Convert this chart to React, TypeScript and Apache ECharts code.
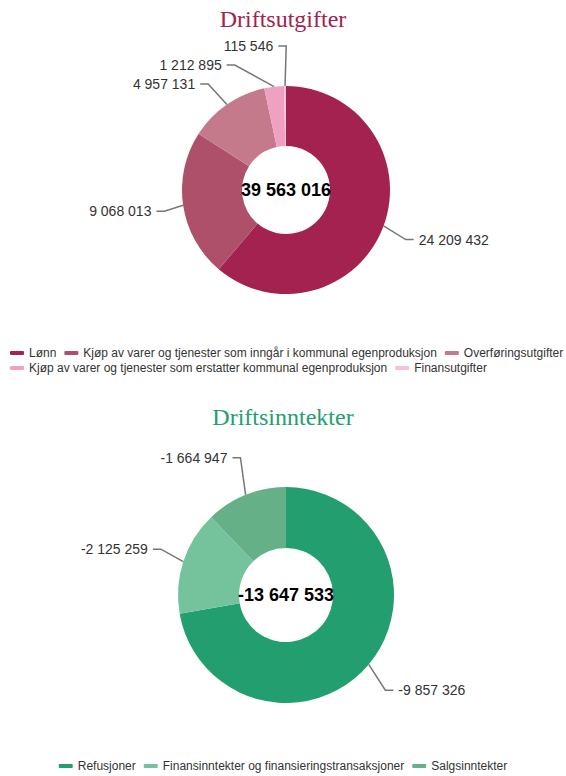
import React, { useEffect, useRef } from "react";
import * as echarts from "echarts";

const expenseCategories = [
  "Lønn",
  "Kjøp av varer og tjenester som inngår i kommunal egenproduksjon",
  "Overføringsutgifter",
  "Kjøp av varer og tjenester som erstatter kommunal egenproduksjon",
  "Finansutgifter",
];
const expenseValues = [24209432, 9068013, 4957131, 1212895, 115546];
const expenseTotalLabel = "39 563 016";
const expenseColors = ["#a3224f", "#ae5069", "#c47a8b", "#f0a0c0", "#f7c2d8"];

const incomeCategories = [
  "Refusjoner",
  "Finansinntekter og finansieringstransaksjoner",
  "Salgsinntekter",
];
const incomeValues = [-9857326, -2125259, -1664947];
const incomeTotalLabel = "-13 647 533";
const incomeColors = ["#239f6f", "#74c39d", "#66b088"];

function fmt(v: number): string {
  const s = Math.abs(Math.round(v)).toString().replace(/\B(?=(\d{3})+(?!\d))/g, " ");
  return (v < 0 ? "-" : "") + s;
}

// pulls outside labels slightly toward the pie, more for near-horizontal leader lines
function pullIn(k: number) {
  return (params: any) => {
    const pts = params.labelLinePoints;
    if (!pts || pts.length < 3) return {};
    const p0 = pts[0], p1 = pts[1], p2 = pts[2];
    const vx = p1[0] - p0[0];
    const vy = p1[1] - p0[1];
    const len = Math.hypot(vx, vy) || 1;
    const dir = p2[0] >= p1[0] ? 1 : -1;
    const s = -dir * k * Math.sqrt(Math.abs(vx) / len);
    return {
      dx: s,
      labelLinePoints: [
        [p0[0], p0[1]],
        [p1[0] + s, p1[1]],
        [p2[0] + s, p2[1]],
      ],
    };
  };
}

export default function App() {
  const ref = useRef<HTMLDivElement>(null);
  useEffect(() => {
    if (!ref.current) return;
    const chart = echarts.init(ref.current, null, { renderer: "svg" });
    const sans = "Liberation Sans, Arial, sans-serif";
    const labelCommon = {
      show: true,
      position: "outside",
      color: "#333",
      fontSize: 14,
      lineHeight: 17,
      fontFamily: sans,
    };
    const labelLineCommon = {
      show: true,
      length: 40,
      length2: 8,
      lineStyle: { color: "#777", width: 1.5 },
    };
    const legendCommon = {
      icon: "roundRect",
      itemWidth: 14,
      itemHeight: 4,
      itemGap: 8,
      padding: 0,
      width: 560,
      textStyle: { color: "#333", fontSize: 12, fontFamily: sans },
      orient: "horizontal" as const,
    };
    chart.setOption({
      animation: false,
      title: [
        {
          text: "Driftsutgifter",
          left: "center",
          top: 2,
          textStyle: {
            fontFamily: "Liberation Serif, DejaVu Serif, serif",
            fontSize: 24,
            fontWeight: "normal",
            color: "#a3224f",
          },
        },
        {
          text: "Driftsinntekter",
          left: "center",
          top: 400,
          textStyle: {
            fontFamily: "Liberation Serif, DejaVu Serif, serif",
            fontSize: 24,
            fontWeight: "normal",
            color: "#239f6f",
          },
        },
      ],
      legend: [
        {
          ...legendCommon,
          data: expenseCategories.slice(0, 3),
          left: 10,
          top: 347,
        },
        {
          ...legendCommon,
          data: expenseCategories.slice(3),
          left: 10,
          top: 362,
        },
        {
          ...legendCommon,
          data: incomeCategories,
          left: "center",
          width: "auto",
          top: 760,
        },
      ],
      graphic: [
        {
          type: "text",
          x: 286,
          y: 190,
          style: {
            text: expenseTotalLabel,
            fontSize: 18,
            fontWeight: "bold",
            fontFamily: sans,
            fill: "#000",
            textAlign: "center",
            textVerticalAlign: "middle",
          },
          z: 100,
        },
        {
          type: "text",
          x: 286,
          y: 595,
          style: {
            text: incomeTotalLabel,
            fontSize: 18,
            fontWeight: "bold",
            fontFamily: sans,
            fill: "#000",
            textAlign: "center",
            textVerticalAlign: "middle",
          },
          z: 100,
        },
      ],
      series: [
        {
          type: "pie",
          center: [286, 190],
          radius: [44, 104],
          startAngle: 90,
          avoidLabelOverlap: true,
          label: { ...labelCommon, formatter: (p: any) => fmt(p.value) },
          labelLine: labelLineCommon,
          labelLayout: pullIn(16),
          itemStyle: { borderWidth: 0 },
          emphasis: { disabled: true },
          data: expenseCategories.map((n, i) => ({
            name: n,
            value: expenseValues[i],
            itemStyle: { color: expenseColors[i] },
          })),
        },
        {
          type: "pie",
          center: [286, 595],
          radius: [47, 108],
          startAngle: 90,
          avoidLabelOverlap: true,
          label: {
            ...labelCommon,
            formatter: (p: any) => fmt(incomeValues[p.dataIndex]),
          },
          labelLine: labelLineCommon,
          labelLayout: pullIn(16),
          itemStyle: { borderWidth: 0 },
          emphasis: { disabled: true },
          data: incomeCategories.map((n, i) => ({
            name: n,
            value: Math.abs(incomeValues[i]),
            itemStyle: { color: incomeColors[i] },
          })),
        },
      ],
    });
    return () => chart.dispose();
  }, []);
  return (
    <div
      ref={ref}
      style={{ position: "absolute", left: 0, top: 0, width: 566, height: 776 }}
    />
  );
}
